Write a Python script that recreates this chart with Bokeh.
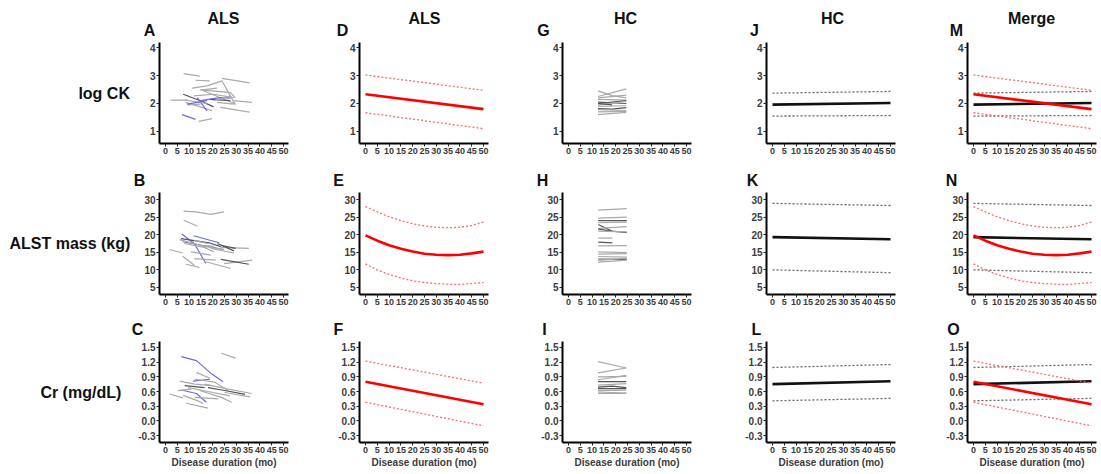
from bokeh.plotting import figure
from bokeh.layouts import column, row
from bokeh.models import Range1d, FixedTicker, PrintfTickFormatter, ColumnDataSource
from bokeh.core.properties import value
from bokeh.embed import file_html
from bokeh.resources import INLINE

# ---------------- data ----------------
row_labels = ["log CK", "ALST mass (kg)", "Cr (mg/dL)"]
col_headers = ["ALS", "ALS", "HC", "HC", "Merge"]
panel_letters = [["A", "D", "G", "J", "M"],
                 ["B", "E", "H", "K", "N"],
                 ["C", "F", "I", "L", "O"]]
x_ticks = [0, 5, 10, 15, 20, 25, 30, 35, 40, 45, 50]
ck_ticks = [1, 2, 3, 4]
alst_ticks = [5, 10, 15, 20, 25, 30]
cr_ticks = [-0.3, 0.0, 0.3, 0.6, 0.9, 1.2, 1.5]
x_axis_title = "Disease duration (mo)"

# ALS individual trajectories: log CK
ck_als_x = [[7.7, 14.5], [12.7, 18.7], [23.9, 35.6], [11.3, 17.6, 23.9, 29.6], [14.8, 29.6],
            [2.1, 9.2], [28.9, 36.6], [23.2, 35.6], [7.0, 12.7], [14.1, 19.7],
            [7.5, 14.8, 20.4], [8.5, 14.8, 19.7], [13.4, 17.6], [16.2, 27.5, 29.6],
            [12.0, 20.4, 28.9], [14.8, 23.2, 27.5], [8.5, 17.6], [19.0, 27.5], [9.2, 14.8],
            [14.8, 21.8], [9.2, 17.6], [20.4, 27.5], [21.8, 28.9]]
ck_als_y = [[3.07, 2.98], [2.83, 2.81], [2.90, 2.74], [2.55, 2.63, 2.81, 1.95], [2.50, 1.98],
            [2.12, 2.12], [2.10, 2.04], [1.86, 1.69], [1.60, 1.43], [1.36, 1.46],
            [2.33, 2.10, 1.88], [2.04, 1.88, 1.74], [2.21, 1.74], [2.48, 2.39, 2.21],
            [2.27, 2.33, 2.21], [2.10, 2.21, 2.19], [2.12, 2.00], [2.15, 2.10], [1.95, 1.98],
            [2.48, 2.55], [1.98, 2.10], [2.10, 2.27], [2.04, 1.98]]
ck_als_group = ["light", "light", "light", "light", "light", "light", "light", "light", "blue",
                "light", "dark", "light", "blue", "light", "light", "blue", "light", "dark",
                "light", "light", "blue", "light", "light"]

# ALS individual trajectories: ALST mass
alst_als_x = [[7.7, 12.9, 19.2, 24.8], [7.7, 13.6], [11.9, 22.7], [6.9, 12.2, 17.1], [7.3, 24.8],
              [5.9, 16.4, 24.8], [1.7, 7.3], [19.2, 29.0], [23.4, 35.3], [7.3, 12.2],
              [8.7, 14.3], [12.2, 21.3], [17.1, 27.6], [24.8, 36.7], [23.4, 35.3],
              [6.6, 18.5, 23.4], [8.0, 16.4, 20.6], [22.0, 29.0], [10.8, 19.2], [16.4, 20.6],
              [12.2, 17.8], [23.4, 29.7]]
alst_als_y = [[26.7, 26.5, 25.8, 26.5], [24.1, 22.4], [19.7, 17.7], [20.2, 17.5, 11.8], [18.0, 15.8],
              [18.6, 16.7, 15.8], [15.8, 14.8], [16.1, 14.8], [16.4, 16.1], [13.9, 11.3],
              [11.6, 10.7], [13.2, 12.8], [12.3, 10.4], [11.8, 12.8], [13.0, 11.6],
              [18.9, 17.7, 16.6], [17.5, 16.4, 15.1], [17.5, 15.4], [15.1, 14.2], [17.0, 16.7],
              [18.4, 17.5], [17.0, 16.1]]
alst_als_group = ["light", "light", "blue", "blue", "blue", "light", "light", "light", "light",
                  "light", "light", "light", "light", "light", "dark", "dark", "light", "dark",
                  "light", "light", "light", "dark"]

# ALS individual trajectories: creatinine
cr_als_x = [[6.7, 13.1, 19.5, 24.4], [23.7, 29.7], [13.1, 18.8], [11.6, 18.8], [6.0, 12.4, 19.5],
            [1.7, 7.4], [8.8, 18.0], [7.4, 13.8, 15.9], [6.7, 13.1, 17.3], [25.1, 35.8],
            [12.4, 20.9, 26.6], [16.6, 26.6, 36.5], [9.5, 18.0, 27.3], [14.5, 23.7, 28.0],
            [8.1, 16.6], [18.0, 25.1, 33.7], [12.4, 22.3], [5.3, 10.9]]
cr_als_y = [[1.31, 1.23, 0.96, 0.80], [1.38, 1.28], [0.99, 0.87], [0.81, 0.85], [0.81, 0.75, 0.72],
            [0.55, 0.47], [0.36, 0.26], [0.52, 0.41, 0.35], [0.63, 0.56, 0.38], [0.58, 0.49],
            [0.85, 0.79, 0.62], [0.75, 0.65, 0.56], [0.68, 0.60, 0.51], [0.62, 0.48, 0.38],
            [0.72, 0.68], [0.68, 0.62, 0.54], [0.48, 0.45], [0.62, 0.65]]
cr_als_group = ["blue", "light", "light", "blue", "light", "light", "light", "light", "blue",
                "light", "light", "light", "light", "light", "dark", "dark", "light", "light"]

# HC individual trajectories
ck_hc_x = [[12.5, 24.5], [12.5, 18.5, 24.5], [12.5, 24.5], [12.5, 24.5], [12.5, 24.5],
           [12.5, 18.5, 24.5], [12.5, 24.5], [12.5, 24.5], [12.5, 18.5, 24.5], [12.5, 24.5],
           [12.5, 24.5], [12.5, 24.5], [12.5, 18.5]]
ck_hc_y = [[2.25, 2.52], [2.45, 2.28, 2.20], [2.20, 2.30], [2.15, 2.12], [2.05, 2.00],
           [2.00, 2.05, 2.10], [1.95, 2.08], [1.90, 1.92], [1.82, 1.80, 1.85], [1.78, 1.75],
           [1.70, 1.72], [1.60, 1.68], [2.00, 1.95]]
ck_hc_group = ["light", "light", "light", "light", "dark", "dark", "light", "light", "dark",
               "light", "light", "light", "dark"]

alst_hc_x = [[12.6, 24.7], [12.6, 24.7], [12.6, 24.7], [12.6, 24.7], [12.6, 18.6],
             [12.6, 24.7], [12.6, 18.6, 24.7], [12.6, 24.7], [12.6, 18.6], [12.6, 18.6],
             [12.6, 24.7], [12.6, 24.7], [12.6, 24.7], [12.6, 24.7], [12.6, 24.7],
             [12.6, 24.7], [12.6, 24.7]]
alst_hc_y = [[27.0, 27.4], [24.7, 25.0], [24.0, 24.0], [23.4, 23.6], [22.9, 21.0],
             [21.8, 22.3], [21.6, 21.0, 20.6], [21.0, 20.8], [19.0, 19.0], [17.9, 17.7],
             [16.8, 16.9], [15.1, 14.9], [14.5, 14.6], [13.8, 13.6], [13.1, 13.0],
             [12.7, 13.3], [12.2, 12.8]]
alst_hc_group = ["light", "light", "dark", "light", "dark", "light", "dark", "light", "light",
                 "dark", "light", "light", "light", "light", "dark", "light", "light"]

cr_hc_x = [[12.5, 24.5], [12.5, 24.5], [12.5, 24.5], [12.5, 24.5], [12.5, 24.5],
           [12.5, 24.5], [12.5, 18.5, 24.5], [12.5, 24.5], [12.5, 24.5], [12.5, 24.5],
           [12.5, 24.5]]
cr_hc_y = [[1.21, 1.08], [0.98, 1.08], [0.90, 0.91], [0.84, 0.93], [0.80, 0.80],
           [0.73, 0.76], [0.69, 0.71, 0.68], [0.66, 0.66], [0.62, 0.63], [0.59, 0.57],
           [0.56, 0.56]]
cr_hc_group = ["light", "light", "light", "light", "dark", "light", "dark", "dark", "light",
               "light", "light"]

# model fits
x_lin = [0, 50]
x_curve = [0, 5, 10, 15, 20, 25, 30, 35, 40, 45, 50]
ck_als_fit = [2.33, 1.80]
ck_als_hi = [3.02, 2.47]
ck_als_lo = [1.67, 1.10]
ck_hc_fit = [1.96, 2.02]
ck_hc_hi = [2.37, 2.43]
ck_hc_lo = [1.55, 1.57]
alst_als_fit = [19.8, 18.3, 17.0, 16.0, 15.2, 14.6, 14.3, 14.2, 14.3, 14.7, 15.2]
alst_als_hi = [28.0, 26.5, 25.1, 24.0, 23.1, 22.5, 22.1, 22.0, 22.1, 22.6, 23.6]
alst_als_lo = [11.7, 10.0, 8.7, 7.7, 6.9, 6.4, 6.1, 5.9, 5.9, 6.1, 6.4]
alst_hc_fit = [19.3, 18.7]
alst_hc_hi = [28.9, 28.3]
alst_hc_lo = [10.0, 9.2]
cr_als_fit = [0.80, 0.34]
cr_als_hi = [1.22, 0.77]
cr_als_lo = [0.38, -0.10]
cr_hc_fit = [0.75, 0.81]
cr_hc_hi = [1.09, 1.15]
cr_hc_lo = [0.41, 0.46]

# ---------------- styling / layout ----------------
FONT = "Liberation Sans"
GROUP_COLOR = {"light": "#a9a9a9", "dark": "#555555", "blue": "#6b6be0"}
RED = "#ff0000"
RED_DOT = "#ff6a6a"
BLACK = "#111111"
GRAY_DOT = "#666666"

BL = 26
BL_FIRST = 159
FW = 129
COL_W = [333, 203, 204, 201, 158]
TOTAL_W = sum(COL_W)
TXT = [(0, 41), (169, 191), (318, 340)]       # screen y spans of the text strips
ROW_SPAN = [(41, 169), (191, 318), (340, 472)]  # screen y spans of panel rows
ROW_BT = [1, 1, 1]
ROW_BB = [26, 24, 30]
Y_RANGES = [(0.57, 4.18), (3.0, 32.0), (-0.44, 1.62)]
Y_TICKS = [ck_ticks, alst_ticks, cr_ticks]
LABEL_STANDOFF = [17, 11, 14]

letter_x = [[149, 342, 543, 754, 956],
            [139, 338, 542, 752, 951],
            [137, 338, 544, 756, 953]]
letter_y = [30, 180, 329]
header_x = [223, 424, 625, 832, 1031]
header_y = 18

spaghetti = [
    [(ck_als_x, ck_als_y, ck_als_group), (ck_hc_x, ck_hc_y, ck_hc_group)],
    [(alst_als_x, alst_als_y, alst_als_group), (alst_hc_x, alst_hc_y, alst_hc_group)],
    [(cr_als_x, cr_als_y, cr_als_group), (cr_hc_x, cr_hc_y, cr_hc_group)],
]
fits = [
    [(x_lin, ck_als_fit, ck_als_hi, ck_als_lo), (x_lin, ck_hc_fit, ck_hc_hi, ck_hc_lo)],
    [(x_curve, alst_als_fit, alst_als_hi, alst_als_lo), (x_lin, alst_hc_fit, alst_hc_hi, alst_hc_lo)],
    [(x_lin, cr_als_fit, cr_als_hi, cr_als_lo), (x_lin, cr_hc_fit, cr_hc_hi, cr_hc_lo)],
]


def text_fig(width, x0, x1, ytop, ybot):
    p = figure(width=width, height=ybot - ytop, x_range=Range1d(x0, x1), y_range=Range1d(ybot, ytop),
               tools="", toolbar_location=None, output_backend="svg",
               x_axis_location=None, y_axis_location=None, min_border=0)
    p.outline_line_color = None
    p.grid.visible = False
    p.background_fill_color = None
    p.border_fill_color = None
    return p


def style_axis(ax, size):
    ax.axis_line_width = 2
    ax.axis_line_color = "black"
    ax.major_tick_line_color = "#222222"
    ax.major_tick_line_width = 1
    ax.major_tick_out = 3
    ax.major_tick_in = 0
    ax.minor_tick_line_color = None
    ax.major_label_text_font = FONT
    ax.major_label_text_font_size = size
    ax.major_label_text_font_style = "bold"
    ax.major_label_text_color = "#3c3c3c"
    ax.major_label_standoff = 1


def draw_fit(p, fit, solid, dotted):
    xs, f, hi, lo = fit
    p.line(xs, hi, line_color=dotted, line_width=1.3, line_dash="2 2")
    p.line(xs, lo, line_color=dotted, line_width=1.3, line_dash="2 2")
    p.line(xs, f, line_color=solid, line_width=2.6)


def panel(r, c):
    w = COL_W[c]
    bl = BL_FIRST if c == 0 else BL
    top, bot = ROW_SPAN[r]
    p = figure(width=w, height=bot - top, x_range=Range1d(-2.54, 52.12),
               y_range=Range1d(*Y_RANGES[r]), tools="", toolbar_location=None,
               output_backend="svg", min_border_left=bl, min_border_right=w - bl - FW,
               min_border_top=ROW_BT[r], min_border_bottom=ROW_BB[r])
    p.outline_line_color = None
    p.grid.visible = False
    p.xaxis.ticker = FixedTicker(ticks=x_ticks)
    p.yaxis.ticker = FixedTicker(ticks=Y_TICKS[r])
    if r == 2:
        p.yaxis.formatter = PrintfTickFormatter(format="%.1f")
        p.xaxis.axis_label = x_axis_title
        p.xaxis.axis_label_text_font = FONT
        p.xaxis.axis_label_text_font_size = "10px"
        p.xaxis.axis_label_text_font_style = "bold"
        p.xaxis.axis_label_text_color = "#3c3c3c"
        p.xaxis.axis_label_standoff = 1
    if c == 0:
        ya = p.yaxis[0]
        ya.axis_label = row_labels[r]
        ya.axis_label_orientation = "horizontal"
        ya.axis_label_text_font = FONT
        ya.axis_label_text_font_size = "16px"
        ya.axis_label_text_font_style = "bold"
        ya.axis_label_text_color = "#111111"
        ya.axis_label_standoff = LABEL_STANDOFF[r]
    style_axis(p.xaxis[0], "9px")
    style_axis(p.yaxis[0], "10px")

    if c in (0, 2):
        xs, ys, grp = spaghetti[r][0 if c == 0 else 1]
        src = ColumnDataSource(dict(xs=xs, ys=ys, color=[GROUP_COLOR[g] for g in grp]))
        p.multi_line(xs="xs", ys="ys", line_color="color", line_width=1.2, source=src)
    if c == 1:
        draw_fit(p, fits[r][0], RED, RED_DOT)
    if c == 3:
        draw_fit(p, fits[r][1], BLACK, GRAY_DOT)
    if c == 4:
        draw_fit(p, fits[r][1], BLACK, GRAY_DOT)
        draw_fit(p, fits[r][0], RED, RED_DOT)
    return p


blocks = []
for r in range(3):
    ytop, ybot = TXT[r]
    t = text_fig(TOTAL_W, 0, TOTAL_W, ytop, ybot)
    if r == 0:
        t.text(x=header_x, y=[header_y] * 5, text=col_headers, text_font=value(FONT),
               text_font_size="16px", text_font_style="bold", text_align="center",
               text_baseline="middle", text_color="#111111")
    t.text(x=letter_x[r], y=[letter_y[r]] * 5, text=panel_letters[r], text_font=value(FONT),
           text_font_size="16px", text_font_style="bold", text_align="center",
           text_baseline="middle", text_color="#111111")
    blocks.append(t)
    blocks.append(row(*[panel(r, c) for c in range(5)]))

layout = column(*blocks)
open("out.html", "w").write(file_html(layout, INLINE))
